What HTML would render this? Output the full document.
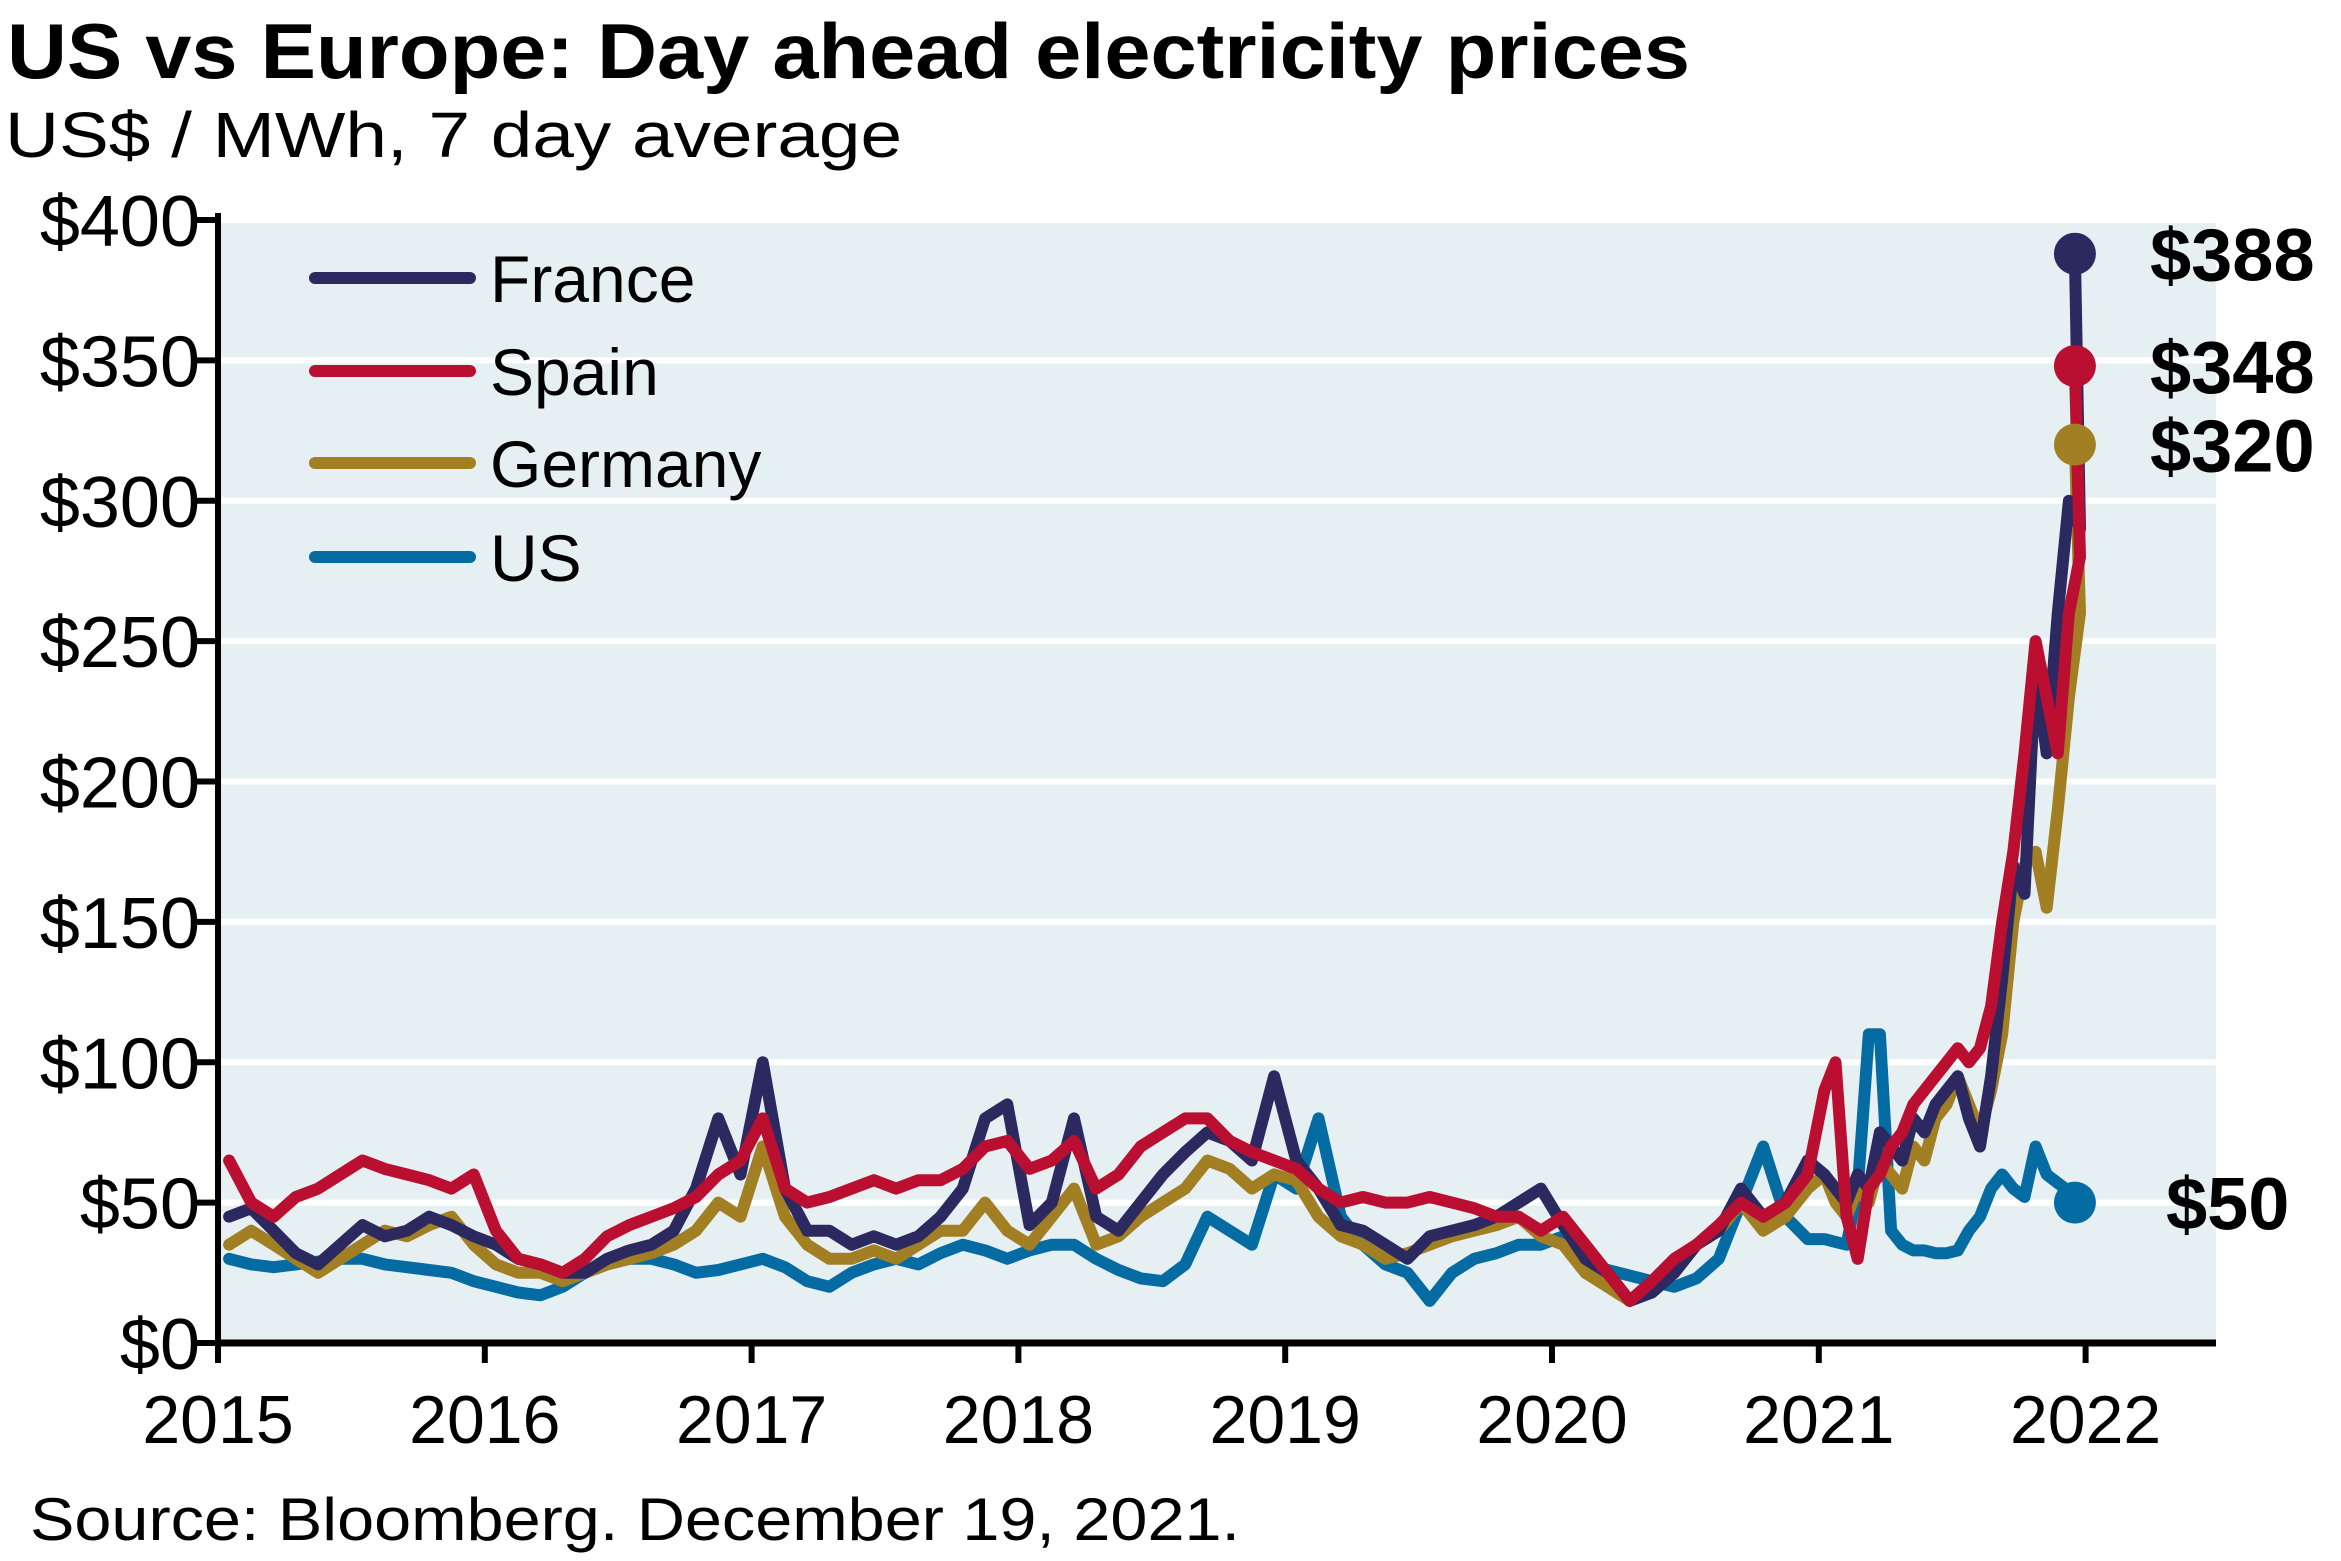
<!DOCTYPE html>
<html><head><meta charset="utf-8"><style>
html,body{margin:0;padding:0;background:#fff;}
svg{display:block;font-family:"Liberation Sans",Arial,sans-serif;}
</style></head><body>
<svg id="chart" width="2341" height="1561" viewBox="0 0 2341 1561">
<text x="7" y="78" font-size="78" font-weight="bold" textLength="1683" lengthAdjust="spacingAndGlyphs">US vs Europe: Day ahead electricity prices</text>
<text x="5" y="157" font-size="64" textLength="897" lengthAdjust="spacingAndGlyphs">US$ / MWh, 7 day average</text>
<rect x="218" y="220" width="1998" height="1123" fill="#E6F0F3"/>
<g id="grid"></g><g id="series"></g><g id="axes"></g><g id="labels"></g>
<g>
<line x1="315" y1="278" x2="470" y2="278" stroke="#2B2960" stroke-width="12" stroke-linecap="round"/>
<text x="490" y="302" font-size="66">France</text>
<line x1="315" y1="371" x2="470" y2="371" stroke="#BA0F31" stroke-width="12" stroke-linecap="round"/>
<text x="490" y="395" font-size="66">Spain</text>
<line x1="315" y1="463" x2="470" y2="463" stroke="#A37F23" stroke-width="12" stroke-linecap="round"/>
<text x="490" y="487" font-size="66">Germany</text>
<line x1="315" y1="557" x2="470" y2="557" stroke="#046CA3" stroke-width="12" stroke-linecap="round"/>
<text x="490" y="581" font-size="66">US</text>
</g>
<text x="30" y="1540" font-size="60" textLength="1210" lengthAdjust="spacingAndGlyphs">Source: Bloomberg. December 19, 2021.</text>
</svg>
<script>
const yTicks = [0,50,100,150,200,250,300,350,400];
const yTickLabels = ['$0','$50','$100','$150','$200','$250','$300','$350','$400'];
const xTicks = [2015,2016,2017,2018,2019,2020,2021,2022];
const xTickLabels = ['2015','2016','2017','2018','2019','2020','2021','2022'];
const seriesNames = ['US','Germany','France','Spain'];
const endDate = 2021.96;
const franceMonthly = [45,48,40,32,28,35,42,38,40,45,42,38, 35,30,28,25,25,30,33,35,40,55,80,60, 100,55,40,40,35,38,35,38,45,55,80,85, 42,50,80,45,40,50,60,68,75,72,65,95, 65,55,42,40,35,30,38,40,42,45,50,55, 42,30,25,15,18,25,35,40,55,45,50,65];
const france2021 = [60,55,50,60,55,75,70,65,80,75,85,90,95,80,70,95,130,170,160,240,210,260,300,290];
const franceLast = 388;
const spainMonthly = [65,50,45,52,55,60,65,62,60,58,55,60, 40,30,28,25,30,38,42,45,48,52,60,65, 80,55,50,52,55,58,55,58,58,62,70,72, 62,65,72,55,60,70,75,80,80,72,68,65, 62,55,50,52,50,50,52,50,48,45,45,40, 45,35,25,15,22,30,35,42,50,45,50,60];
const spain2021 = [90,100,45,30,55,60,70,75,85,90,95,100,105,100,105,120,150,175,210,250,230,210,260,280];
const spainLast = 348;
const germanyMonthly = [35,40,35,30,25,30,35,40,38,42,45,35, 28,25,25,22,25,28,30,32,35,40,50,45, 70,45,35,30,30,33,30,35,40,40,50,40, 35,45,55,35,38,45,50,55,65,62,55,60, 58,45,38,35,30,32,35,38,40,42,45,38, 35,25,20,15,20,25,35,40,50,40,45,55];
const germany2021 = [60,50,45,55,50,65,60,55,70,65,80,85,95,85,75,90,110,150,170,175,155,190,230,260];
const germanyLast = 320;
const usMonthly = [30,28,27,28,29,30,30,28,27,26,25,22, 20,18,17,20,25,28,30,30,28,25,26,28, 30,27,22,20,25,28,30,28,32,35,33,30, 33,35,35,30,26,23,22,28,45,40,35,60, 55,80,45,35,28,25,15,25,30,32,35,35, 38,28,26,24,22,20,23,30,50,70,45,37];
const us2021 = [37,36,35,55,110,110,40,35,33,33,32,32,33,40,45,55,60,55,52,70,60,57,54,50];
const usLast = 50;

const NS='http://www.w3.org/2000/svg';
const L=218,R=2216,T=220,B=1343;
const x0=2015, xPerYear=266.8;
function xs(t){return L+(t-x0)*xPerYear;}
function ys(v){return B-(v/400)*(B-T);}
function mk(tag,attrs,parent){const e=document.createElementNS(NS,tag);for(const k in attrs)e.setAttribute(k,attrs[k]);parent.appendChild(e);return e;}
const grid=document.getElementById('grid'),axes=document.getElementById('axes'),ser=document.getElementById('series'),lab=document.getElementById('labels');
yTicks.forEach((v,i)=>{
  if(v>0){const g=mk('line',{x1:L,x2:R,y1:ys(v),y2:ys(v),stroke:'#fff','stroke-width':6},grid);
  
  }
  const tk=mk('line',{x1:L-22,x2:L,y1:ys(v),y2:ys(v),stroke:'#000','stroke-width':6},axes);
  
  
  const t=mk('text',{x:200,y:ys(v)+26,'font-size':72,'text-anchor':'end'},lab);
  t.textContent=yTickLabels[i];
  
  
});
xTicks.forEach((yr,i)=>{
  const tk=mk('line',{x1:xs(yr),x2:xs(yr),y1:B,y2:B+20,stroke:'#000','stroke-width':6},axes);
  
  
  const t=mk('text',{x:xs(yr),y:1443,'font-size':68,'text-anchor':'middle'},lab);
  t.textContent=xTickLabels[i];
  
  
});
const ya=mk('line',{x1:L,x2:L,y1:T-7,y2:B+3,stroke:'#000','stroke-width':6},axes);


const xa=mk('line',{x1:L-3,x2:R,y1:B,y2:B,stroke:'#000','stroke-width':7},axes);



function buildDates(){const d=[];for(let i=0;i<72;i++)d.push(2015+i/12+1/24);for(let i=0;i<24;i++)d.push(2021+i/24+1/48);d.push(endDate);return d;}
const dates=buildDates();
const cfg={
 US:{m:usMonthly,y:us2021,last:usLast,c:'#046CA3',lx:2166,lbl:'$50'},
 Germany:{m:germanyMonthly,y:germany2021,last:germanyLast,c:'#A37F23',lx:2150,lbl:'$320'},
 France:{m:franceMonthly,y:france2021,last:franceLast,c:'#2B2960',lx:2150,lbl:'$388'},
 Spain:{m:spainMonthly,y:spain2021,last:spainLast,c:'#BA0F31',lx:2150,lbl:'$348'}
};
seriesNames.forEach(n=>{
  const s=cfg[n];const vals=s.m.concat(s.y,[s.last]);
  const d=vals.map((v,i)=>(i?'L':'M')+xs(dates[i]).toFixed(1)+','+ys(v).toFixed(1)).join(' ');
  const p=mk('path',{d:d,fill:'none',stroke:s.c,'stroke-width':12,'stroke-linejoin':'round','stroke-linecap':'round'},ser);
  
  
});
['US','Germany','Spain','France'].forEach(n=>{
  const s=cfg[n];
  const c=mk('circle',{cx:xs(endDate),cy:ys(s.last),r:21,fill:s.c},ser);
  
  
  const t=mk('text',{x:s.lx,y:ys(s.last)+27,'font-size':74,'font-weight':'bold'},lab);
  t.textContent=s.lbl;
  
  
});
</script>
</body></html>
